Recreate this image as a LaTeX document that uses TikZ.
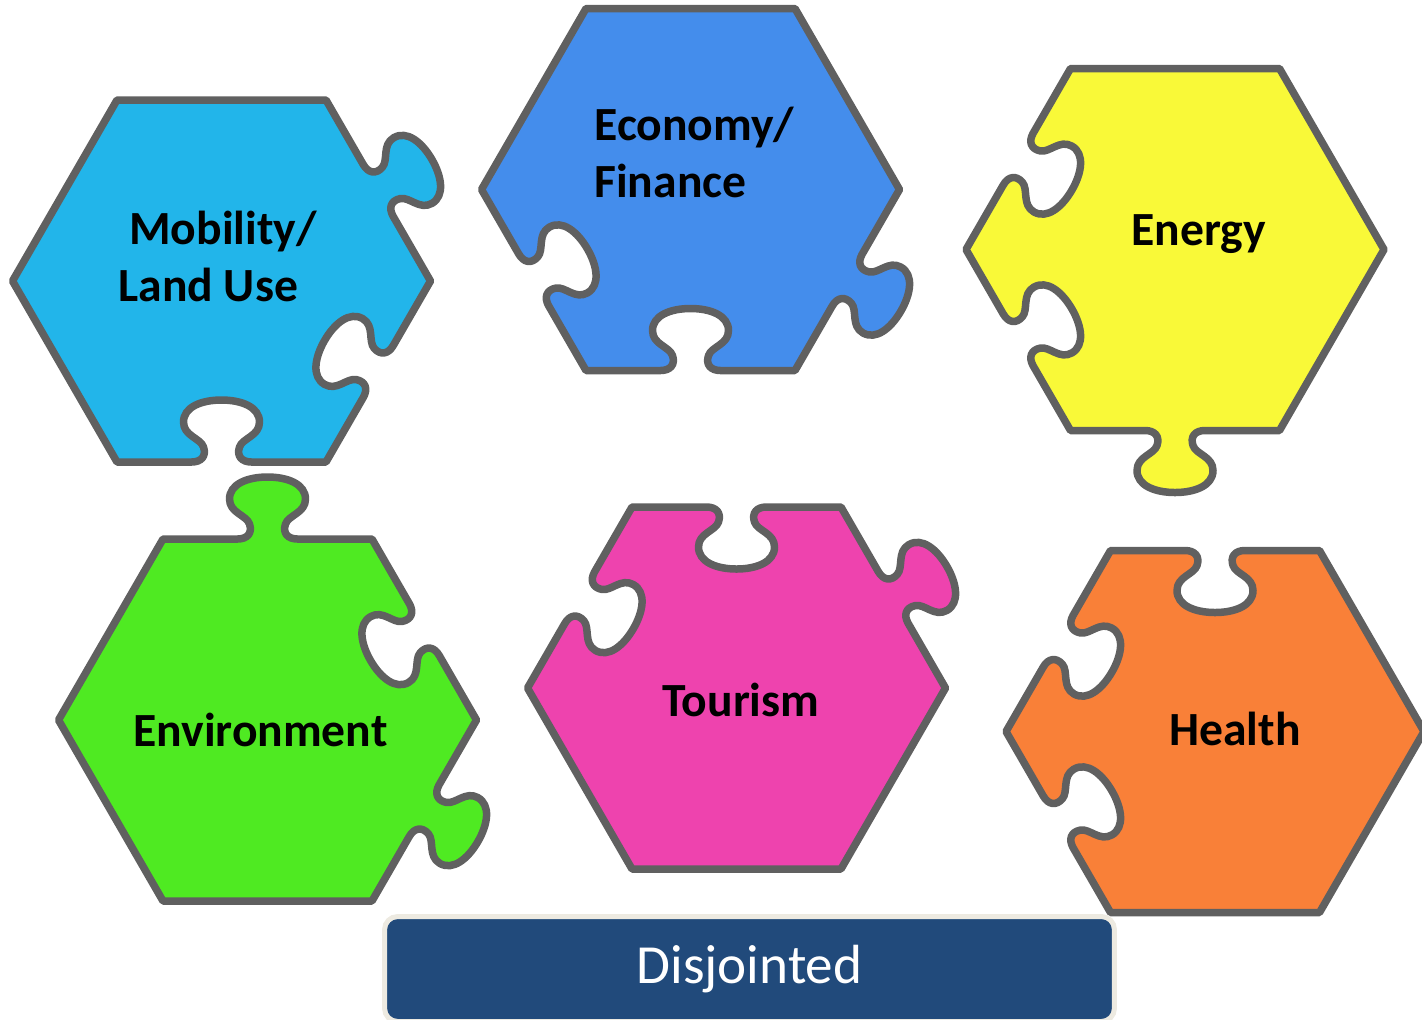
\documentclass[tikz,border=0pt]{standalone}
\usepackage{fontspec}
\setmainfont{Carlito}
\definecolor{mobility}{HTML}{22B5EA}
\definecolor{economy}{HTML}{448DEC}
\definecolor{energy}{HTML}{F9F938}
\definecolor{environment}{HTML}{4FEA22}
\definecolor{tourism}{HTML}{EE43AE}
\definecolor{health}{HTML}{F98038}
\definecolor{rim}{HTML}{606060}
\definecolor{banner}{HTML}{214A7B}
\definecolor{bannerrim}{HTML}{EDEAE1}
\newcommand\rr{181}
\newcommand\hh{104.5}
\newcommand\knob{-- (-30,0) .. controls (-20,0) and (-15,6) .. (-18,15)
  .. controls (-21,24) and (-38,26) .. (-38,40)
  .. controls (-38,55) and (-20,62) .. (0,62)
  .. controls (20,62) and (38,55) .. (38,40)
  .. controls (38,26) and (21,24) .. (18,15)
  .. controls (15,6) and (20,0) .. (30,0)}
\newcommand\edgeflat{-- (\rr,\hh)}
\newcommand\edgeout{{[cm={0,1,1,0,(\rr,0)}] \knob} -- (\rr,\hh)}
\newcommand\edgein{{[cm={0,1,-1,0,(\rr,0)}] \knob} -- (\rr,\hh)}
\newcommand\piece[9]{\draw [puzzle, fill=#3, shift={(#1,#2)}] (0:209)
  {[rotate=30] #4} {[rotate=90] #5} {[rotate=150] #6}
  {[rotate=210] #7} {[rotate=270] #8} {[rotate=330] #9} -- cycle ;}
\begin{document}
\begin{tikzpicture}[x=0.02cm, y=0.02cm,
    puzzle/.style={draw=rim, line width=0.15cm, line join=round},
    piecetext/.style={font=\bfseries\fontsize{27.1}{32.3}\selectfont, align=left, inner sep=0pt, anchor=base west},
    banner/.style={draw=bannerrim, fill=banner, line width=0.1cm, rounded corners=0.26cm,
      minimum width=14.6cm, minimum height=2.1cm, inner sep=0pt, text=white,
      font=\fontsize{31.4}{37}\selectfont}]
\useasboundingbox (0,0) rectangle (1422,-1019) ;
\piece{221.5}{-281}{mobility}{\edgeout}{\edgeflat}{\edgeflat}{\edgeflat}{\edgein}{\edgein}
\piece{690.5}{-189.5}{economy}{\edgeflat}{\edgeflat}{\edgeflat}{\edgein}{\edgein}{\edgeout}
\piece{1175}{-249.5}{energy}{\edgeflat}{\edgeflat}{\edgein}{\edgein}{\edgeout}{\edgeflat}
\piece{267.5}{-720}{environment}{\edgein}{\edgeout}{\edgeflat}{\edgeflat}{\edgeflat}{\edgeout}
\piece{736.5}{-688}{tourism}{\edgeout}{\edgein}{\edgein}{\edgeflat}{\edgeflat}{\edgeflat}
\piece{1215}{-731.5}{health}{\edgeflat}{\edgein}{\edgein}{\edgein}{\edgeflat}{\edgeflat}
\node [piecetext] (mobilitytext) at (118,-301) {\hspace*{0.22cm}Mobility/\\Land Use} ;
\node [piecetext] (economytext) at (594,-197) {Economy/\\Finance} ;
\node [piecetext] (energytext) at (1131,-245) {Energy} ;
\node [piecetext] (environmenttext) at (133,-746) {Environment} ;
\node [piecetext] (tourismtext) at (662,-716) {Tourism} ;
\node [piecetext] (healthtext) at (1169,-745) {Health} ;
\node [banner] (disjointed) at (749.5,-969) {Disjointed} ;
\end{tikzpicture}
\end{document}
